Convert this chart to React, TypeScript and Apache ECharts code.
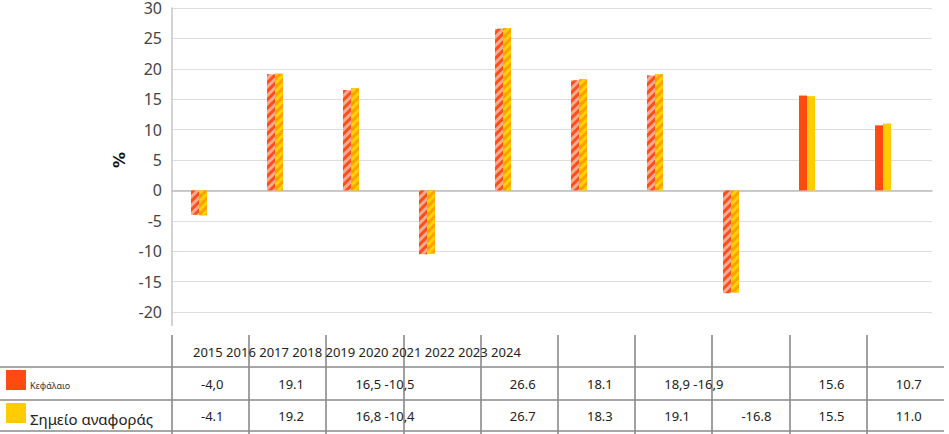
import React, { useEffect, useRef } from "react";
import * as echarts from "echarts";

const years = ["2015", "2016", "2017", "2018", "2019", "2020", "2021", "2022", "2023", "2024"];
const seriesNames = ["Κεφάλαιο", "Σημείο αναφοράς"];
const capital = [-4.0, 19.1, 16.5, -10.5, 26.6, 18.1, 18.9, -16.9, 15.6, 10.7];
const benchmark = [-4.1, 19.2, 16.8, -10.4, 26.7, 18.3, 19.1, -16.8, 15.5, 11.0];
const hatched = [true, true, true, true, true, true, true, true, false, false];
const capitalCells = ["-4,0", "19.1", "16,5 -10,5", "", "26.6", "18.1", "18,9 -16,9", "", "15.6", "10.7"];
const benchmarkCells = ["-4.1", "19.2", "16,8 -10,4", "", "26.7", "18.3", "19.1", "-16.8", "15.5", "11.0"];
const yMin = -20;
const yMax = 30;
const yInterval = 5;

const W = 949;
const H = 434;
const gridLeft = 172;
const gridTop = 8;
const gridWidth = 760;
const gridHeight = 304;

const colors = {
  capSolid: "#FF4A12",
  capBase: "#F7AA92",
  capStripe: "#FF4E18",
  benSolid: "#FFCC00",
  benBase: "#FFA000",
  benStripe: "#FFD200",
};

function makeData(values: number[], solid: string, base: string, stripe: string) {
  return values.map((v, i) =>
    hatched[i]
      ? {
          value: v,
          itemStyle: {
            color: base,
            decal: {
              symbol: "rect",
              symbolSize: 1,
              color: stripe,
              dashArrayX: [1, 0],
              dashArrayY: [2.8, 2.8],
              rotation: -Math.PI / 4,
            },
          },
        }
      : { value: v, itemStyle: { color: solid } }
  );
}

export default function App() {
  const ref = useRef<HTMLDivElement>(null);
  useEffect(() => {
    document.body.style.margin = "0";
    if (!ref.current) return;
    const chart = echarts.init(ref.current, undefined, { renderer: "svg" });

    const tableLeft = gridLeft;
    const colW = 77.2;
    const lineColor = "#8a8a8a";
    const tableFont = "Noto Sans";
    const graphics: any[] = [];
    const hLines = [367, 400, 431];
    hLines.forEach((y) =>
      graphics.push({
        type: "line",
        shape: { x1: 0, y1: y, x2: 944, y2: y },
        style: { stroke: lineColor, lineWidth: 1.6 },
        silent: true,
      })
    );
    for (let i = 0; i < years.length; i++) {
      const x = Math.round(tableLeft + colW * i);
      graphics.push({
        type: "line",
        shape: { x1: x, y1: 335, x2: x, y2: H },
        style: { stroke: lineColor, lineWidth: 1.6 },
        silent: true,
      });
    }
    graphics.push({
      type: "line",
      shape: { x1: gridLeft, y1: gridTop + gridHeight, x2: gridLeft, y2: 326 },
      style: { stroke: "#c4c4c4", lineWidth: 1.5 },
      silent: true,
    });
    graphics.push({
      type: "text",
      x: 193,
      y: 352,
      style: {
        text: years.join(" "),
        fontSize: 13,
        fontFamily: tableFont,
        fill: "#222",
        align: "left",
        verticalAlign: "middle",
      },
    });
    const rows = [
      { cells: capitalCells, y: 384 },
      { cells: benchmarkCells, y: 416 },
    ];
    rows.forEach((r) =>
      r.cells.forEach((c, i) => {
        if (!c) return;
        graphics.push({
          type: "text",
          x: tableLeft + colW * i + 29,
          y: r.y,
          style: {
            text: c,
            fontSize: 13,
            fontFamily: tableFont,
            fill: "#222",
            align: "left",
            verticalAlign: "middle",
          },
        });
      })
    );
    graphics.push({ type: "rect", shape: { x: 6, y: 370, width: 20, height: 20 }, style: { fill: colors.capSolid } });
    graphics.push({ type: "rect", shape: { x: 6, y: 403, width: 20, height: 20 }, style: { fill: colors.benSolid } });
    graphics.push({
      type: "text",
      x: 30,
      y: 385,
      style: { text: seriesNames[0], fontSize: 9, fontFamily: tableFont, fill: "#333", align: "left", verticalAlign: "middle" },
    });
    graphics.push({
      type: "text",
      x: 30,
      y: 419,
      style: { text: seriesNames[1], fontSize: 15, fontFamily: tableFont, fill: "#222", align: "left", verticalAlign: "middle" },
    });

    chart.setOption({
      animation: false,
      grid: { left: gridLeft, top: gridTop, width: gridWidth, height: gridHeight },
      xAxis: {
        type: "category",
        data: years,
        axisLabel: { show: false },
        axisTick: { show: false },
        axisLine: { show: true, onZero: true, lineStyle: { color: "#bdbdbd", width: 1.5 } },
      },
      yAxis: {
        type: "value",
        min: yMin,
        max: yMax,
        interval: yInterval,
        name: "%",
        nameLocation: "middle",
        nameRotate: 90,
        nameGap: 44,
        nameTextStyle: { fontSize: 16, fontWeight: "bold", color: "#111", fontFamily: "DejaVu Sans" },
        axisLine: { show: true, lineStyle: { color: "#c4c4c4", width: 1.5 } },
        axisTick: { show: false },
        axisLabel: { fontSize: 16, lineHeight: 14, color: "#444", margin: 10, fontFamily: "Noto Sans" },
        splitLine: { lineStyle: { color: "#dedede", width: 1.2 } },
      },
      series: [
        {
          name: seriesNames[0],
          type: "bar",
          barWidth: 8,
          barGap: "0%",
          data: makeData(capital, colors.capSolid, colors.capBase, colors.capStripe),
        },
        {
          name: seriesNames[1],
          type: "bar",
          barWidth: 8,
          barGap: "0%",
          data: makeData(benchmark, colors.benSolid, colors.benBase, colors.benStripe),
        },
        {
          name: "spacer",
          type: "bar",
          barWidth: 22,
          barGap: "0%",
          silent: true,
          data: years.map(() => null),
        },
      ],
      graphic: graphics,
    });
    return () => chart.dispose();
  }, []);
  return <div ref={ref} style={{ width: W, height: H }} />;
}
